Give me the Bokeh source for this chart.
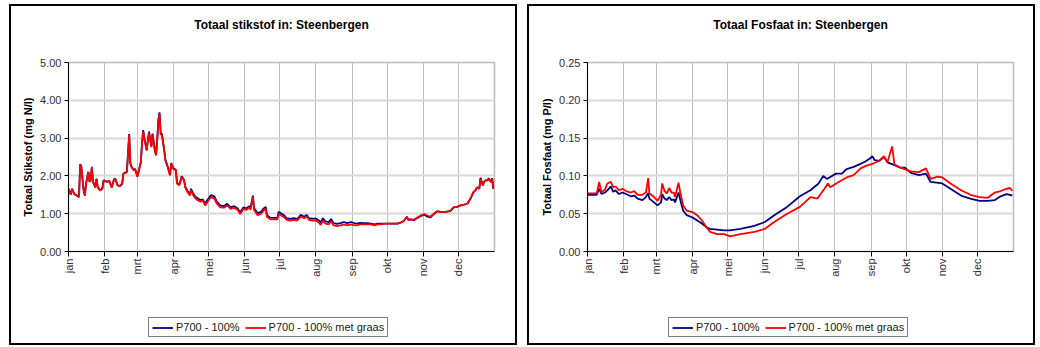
import math
from bokeh.plotting import figure
from bokeh.layouts import row, column
from bokeh.models import (Range1d, FixedTicker, NumeralTickFormatter, Legend, LegendItem,
                          LinearAxis)
from bokeh.embed import file_html
from bokeh.resources import INLINE

# ---------------- data ----------------
month_days = [0, 31, 59, 90, 120, 151, 181, 212, 243, 273, 304, 334]
month_labels = ["jan", "feb", "mrt", "apr", "mei", "jun", "jul", "aug", "sep", "okt", "nov", "dec"]

# Totaal stikstof (mg N/l)
n_days = [0, 2, 3, 5, 7, 9, 10, 11, 13, 14,
          15, 17, 18, 19, 20, 21, 23, 24, 25, 27,
          29, 30, 33, 35, 37, 39, 40, 42, 44, 46,
          47, 50, 51, 52, 53, 54, 56, 57, 59, 60,
          62, 63, 64, 65, 67, 68, 69, 71, 72, 74,
          75, 76, 77, 78, 79, 80, 82, 83, 85, 87,
          88, 90, 92, 93, 95, 97, 99, 100, 102, 104,
          105, 107, 109, 111, 113, 115, 117, 119, 122, 125,
          127, 130, 133, 136, 139, 142, 145, 147, 150, 152,
          155, 156, 158, 159, 162, 165, 167, 169, 170, 173,
          176, 179, 180, 182, 185, 187, 190, 193, 196, 199,
          202, 204, 206, 209, 212, 215, 216, 218, 220, 223,
          225, 227, 230, 233, 236, 239, 242, 245, 247, 250,
          253, 256, 259, 262, 265, 267, 270, 273, 276, 279,
          282, 285, 287, 290, 291, 293, 296, 299, 302, 305,
          307, 310, 313, 316, 319, 323, 327, 330, 333, 336,
          339, 342, 345, 347, 349, 350, 352, 353, 355, 356,
          357, 359, 360, 362, 363, 364]
n_graas = [1.66, 1.50, 1.66, 1.52, 1.48, 1.44, 2.30, 2.23, 1.61, 1.48,
           1.79, 2.10, 1.84, 1.88, 2.23, 1.84, 1.69, 1.92, 1.70, 1.61,
           1.66, 1.87, 1.84, 1.86, 1.69, 1.90, 1.92, 1.75, 1.72, 1.79,
           2.05, 2.10, 2.58, 3.08, 2.32, 2.23, 2.14, 2.18, 1.98, 2.10,
           2.36, 2.85, 3.18, 2.98, 2.67, 2.93, 3.14, 2.76, 3.09, 2.67,
           2.54, 2.93, 3.46, 3.64, 3.09, 3.09, 2.67, 2.41, 2.23, 2.01,
           2.32, 2.18, 2.14, 1.79, 1.75, 1.97, 1.88, 1.70, 1.57, 1.48,
           1.63, 1.48, 1.40, 1.35, 1.32, 1.35, 1.22, 1.31, 1.44, 1.40,
           1.27, 1.17, 1.16, 1.22, 1.13, 1.16, 1.10, 0.99, 1.13, 1.10,
           1.16, 1.10, 1.44, 1.10, 0.96, 1.00, 1.08, 1.13, 0.92, 0.85,
           0.85, 0.85, 1.00, 0.96, 0.90, 0.84, 0.82, 0.84, 0.82, 0.92,
           0.88, 0.93, 0.84, 0.82, 0.82, 0.75, 0.70, 0.82, 0.74, 0.72,
           0.80, 0.69, 0.67, 0.69, 0.72, 0.69, 0.72, 0.69, 0.69, 0.72,
           0.72, 0.72, 0.72, 0.69, 0.72, 0.72, 0.73, 0.74, 0.74, 0.74,
           0.74, 0.77, 0.80, 0.92, 0.84, 0.85, 0.84, 0.90, 0.96, 0.99,
           0.96, 0.92, 1.00, 1.07, 1.05, 1.05, 1.07, 1.17, 1.18, 1.22,
           1.24, 1.27, 1.44, 1.57, 1.63, 1.70, 1.66, 1.92, 1.75, 1.84,
           1.88, 1.88, 1.92, 1.84, 1.92, 1.66]
n_base = [1.66, 1.50, 1.66, 1.52, 1.48, 1.44, 2.31, 2.24, 1.61, 1.48,
          1.79, 2.11, 1.85, 1.89, 2.24, 1.85, 1.70, 1.93, 1.71, 1.62,
          1.67, 1.88, 1.85, 1.87, 1.70, 1.91, 1.93, 1.76, 1.73, 1.80,
          2.06, 2.11, 2.60, 3.11, 2.33, 2.24, 2.15, 2.19, 1.99, 2.11,
          2.37, 2.87, 3.21, 3.00, 2.69, 2.95, 3.17, 2.78, 3.12, 2.69,
          2.56, 2.95, 3.48, 3.68, 3.12, 3.12, 2.69, 2.43, 2.25, 2.03,
          2.34, 2.20, 2.16, 1.81, 1.77, 1.99, 1.90, 1.72, 1.60, 1.52,
          1.66, 1.52, 1.44, 1.40, 1.36, 1.38, 1.27, 1.36, 1.49, 1.46,
          1.32, 1.22, 1.20, 1.26, 1.17, 1.20, 1.14, 1.03, 1.17, 1.14,
          1.20, 1.16, 1.48, 1.15, 1.01, 1.05, 1.13, 1.18, 0.97, 0.89,
          0.89, 0.89, 1.05, 1.01, 0.95, 0.88, 0.86, 0.88, 0.86, 0.97,
          0.92, 0.97, 0.88, 0.87, 0.87, 0.81, 0.76, 0.88, 0.80, 0.78,
          0.86, 0.75, 0.73, 0.75, 0.78, 0.75, 0.78, 0.75, 0.74, 0.76,
          0.75, 0.75, 0.74, 0.72, 0.74, 0.74, 0.74, 0.74, 0.74, 0.74,
          0.74, 0.77, 0.80, 0.92, 0.84, 0.85, 0.83, 0.89, 0.94, 0.97,
          0.93, 0.90, 0.99, 1.06, 1.05, 1.05, 1.07, 1.17, 1.18, 1.22,
          1.24, 1.27, 1.44, 1.57, 1.63, 1.70, 1.66, 1.95, 1.75, 1.84,
          1.88, 1.88, 1.94, 1.84, 1.94, 1.66]

# Totaal fosfaat (mg P/l)
p_base_days = [0, 5, 8, 10, 12, 15, 17, 20, 22, 24,
               27, 30, 33, 37, 40, 43, 47, 50, 52, 53,
               57, 60, 63, 64, 66, 68, 70, 72, 74, 75,
               78, 80, 82, 85, 90, 94, 98, 102, 105, 111,
               117, 122, 131, 143, 152, 160, 171, 182, 191, 198,
               202, 205, 213, 218, 222, 228, 234, 238, 242, 244,
               246, 250, 254, 257, 262, 268, 272, 277, 284, 290,
               294, 304, 311, 320, 328, 336, 343, 349, 354, 359,
               362, 364]
p_base = [0.075, 0.075, 0.075, 0.083, 0.076, 0.078, 0.081, 0.086, 0.079, 0.081,
          0.076, 0.078, 0.076, 0.073, 0.074, 0.070, 0.068, 0.072, 0.077, 0.070,
          0.065, 0.061, 0.065, 0.076, 0.070, 0.068, 0.072, 0.068, 0.069, 0.065,
          0.078, 0.065, 0.054, 0.048, 0.045, 0.041, 0.037, 0.032, 0.030, 0.029,
          0.028, 0.028, 0.030, 0.034, 0.039, 0.048, 0.059, 0.073, 0.081, 0.090,
          0.100, 0.096, 0.103, 0.103, 0.109, 0.112, 0.116, 0.119, 0.123, 0.126,
          0.121, 0.120, 0.125, 0.118, 0.115, 0.111, 0.111, 0.104, 0.101, 0.103,
          0.092, 0.090, 0.083, 0.074, 0.070, 0.067, 0.067, 0.068, 0.073, 0.076,
          0.075, 0.074]
p_graas_days = [0, 5, 8, 10, 12, 15, 17, 20, 22, 24,
                27, 30, 33, 37, 40, 43, 47, 50, 52, 53,
                57, 60, 63, 64, 66, 68, 70, 72, 74, 75,
                78, 80, 82, 85, 90, 94, 98, 102, 105, 111,
                117, 122, 131, 143, 152, 160, 171, 182, 191, 197,
                203, 206, 208, 213, 222, 228, 234, 238, 242, 244,
                250, 254, 257, 261, 263, 268, 277, 284, 290, 294,
                300, 304, 311, 320, 328, 336, 343, 349, 354, 359,
                362, 364]
p_graas = [0.077, 0.077, 0.077, 0.092, 0.078, 0.082, 0.090, 0.092, 0.085, 0.086,
           0.081, 0.083, 0.080, 0.078, 0.080, 0.075, 0.075, 0.078, 0.097, 0.077,
           0.072, 0.067, 0.075, 0.090, 0.080, 0.077, 0.084, 0.078, 0.078, 0.072,
           0.091, 0.074, 0.061, 0.054, 0.052, 0.048, 0.041, 0.032, 0.026, 0.023,
           0.023, 0.020, 0.023, 0.026, 0.030, 0.039, 0.050, 0.059, 0.072, 0.070,
           0.083, 0.090, 0.085, 0.090, 0.098, 0.101, 0.110, 0.113, 0.115, 0.116,
           0.120, 0.126, 0.118, 0.139, 0.115, 0.111, 0.106, 0.105, 0.110, 0.096,
           0.099, 0.098, 0.090, 0.081, 0.075, 0.072, 0.071, 0.078, 0.080, 0.083,
           0.084, 0.080]

series_labels = ["P700 - 100%", "P700 - 100% met graas"]
series_colors = ["#000080", "#ff0000"]

FONT = "Liberation Sans"
TOP, FRAME_H, BOTTOM = 56, 189, 40
BOX_INNER_H = 337
LEGEND_H = BOX_INNER_H - TOP - FRAME_H - BOTTOM


def spacer_axis(height):
    # an axis with one invisible tick and an empty label: only reserves space
    ax = LinearAxis(ticker=FixedTicker(ticks=[180]))
    ax.major_label_overrides = {180: ""}
    ax.axis_line_color = None
    ax.major_tick_line_color = None
    ax.minor_tick_line_color = None
    ax.major_tick_out = height
    ax.major_tick_in = 0
    ax.minor_tick_out = 0
    ax.minor_tick_in = 0
    ax.major_label_standoff = 0
    ax.major_label_text_font_size = "1px"
    return ax


def make_chart(title, ylabel, ymax, yticks, xb, yb, xr, yr, left_border, legend_x):
    p = figure(frame_width=426, frame_height=FRAME_H,
               min_border_left=left_border, min_border_right=504 - 426 - left_border,
               min_border_top=TOP, min_border_bottom=BOTTOM,
               x_range=Range1d(0, 365), y_range=Range1d(0, ymax),
               output_backend="svg", toolbar_location=None, title=title)
    p.background_fill_color = "white"
    p.border_fill_color = "white"
    p.outline_line_color = "#bdbdbd"
    p.outline_line_width = 1.5

    p.title.align = "center"
    p.title.text_font = FONT
    p.title.text_font_size = "12px"
    p.title.text_font_style = "bold"
    p.title.text_color = "#000000"
    p.title.standoff = 10

    xa = p.below[0]
    ya = p.left[0]

    # grids
    p.xgrid.ticker = FixedTicker(ticks=month_days)
    p.xgrid.grid_line_color = "#bfbfbf"
    p.xgrid.grid_line_width = 1
    p.ygrid.ticker = FixedTicker(ticks=yticks)
    p.ygrid.grid_line_color = "#d9d9d9"
    p.ygrid.grid_line_width = 2

    # x axis
    xa.ticker = FixedTicker(ticks=month_days)
    xa.major_label_overrides = {d: m for d, m in zip(month_days, month_labels)}
    xa.major_label_orientation = math.pi / 2
    xa.axis_line_color = "#000000"
    xa.major_tick_line_color = "#000000"
    xa.major_tick_out = 5
    xa.major_tick_in = 0
    xa.minor_tick_line_color = None
    xa.major_label_text_font = FONT
    xa.major_label_text_font_size = "11px"
    xa.major_label_text_color = "#303030"
    xa.major_label_standoff = 2

    # y axis
    ya.ticker = FixedTicker(ticks=yticks)
    ya.formatter = NumeralTickFormatter(format="0.00")
    ya.axis_line_color = "#000000"
    ya.major_tick_line_color = "#000000"
    ya.major_tick_out = 4
    ya.major_tick_in = 0
    ya.minor_tick_line_color = None
    ya.major_label_text_font = FONT
    ya.major_label_text_font_size = "11px"
    ya.major_label_text_color = "#303030"
    ya.major_label_standoff = 3
    ya.axis_label = ylabel
    ya.axis_label_text_font = FONT
    ya.axis_label_text_font_size = "11px"
    ya.axis_label_text_font_style = "bold"
    ya.axis_label_text_color = "#000000"
    ya.axis_label_standoff = 3

    p.line(xb, yb, line_color=series_colors[0], line_width=1.8)
    p.line(xr, yr, line_color=series_colors[1], line_width=1.8)

    p.add_layout(spacer_axis(26), "above")

    # legend strip below the chart; its own frame holds the legend box.
    # The series are drawn here too but fall outside this strip's x range,
    # so only their legend swatches show.
    lf = figure(width=504, height=LEGEND_H, x_range=Range1d(-20, -10), y_range=Range1d(0, 1),
                output_backend="svg", toolbar_location=None,
                min_border_left=0, min_border_right=0, min_border_top=0, min_border_bottom=0)
    lf.axis.visible = False
    lf.grid.visible = False
    lf.outline_line_color = None
    lf.background_fill_color = "white"
    lf.border_fill_color = "white"
    lb = lf.line(xb, yb, line_color=series_colors[0], line_width=1.8)
    lr = lf.line(xr, yr, line_color=series_colors[1], line_width=1.8)
    legend = Legend(items=[LegendItem(label=series_labels[0], renderers=[lb]),
                           LegendItem(label=series_labels[1], renderers=[lr])],
                    orientation="horizontal", location=(legend_x, 6))
    legend.border_line_color = "#000000"
    legend.border_line_width = 1
    legend.background_fill_color = "white"
    legend.background_fill_alpha = 1
    legend.label_text_font = FONT
    legend.label_text_font_size = "11px"
    legend.label_text_color = "#202020"
    legend.padding = 3
    legend.spacing = 5
    legend.margin = 0
    legend.label_standoff = 3
    legend.glyph_width = 21
    legend.glyph_height = 11
    legend.label_height = 11
    lf.add_layout(legend)

    box = column(p, lf, spacing=0, styles={"border": "2px solid #000000"})
    return box


c1 = make_chart("Totaal stikstof in: Steenbergen", "Totaal Stikstof (mg N/l)", 5.0,
                [0, 1, 2, 3, 4, 5], n_days, n_base, n_days, n_graas, 57, 80)
c2 = make_chart("Totaal Fosfaat in: Steenbergen", "Totaal Fosfaat (mg P/l)", 0.25,
                [0, 0.05, 0.10, 0.15, 0.20, 0.25], p_base_days, p_base, p_graas_days, p_graas, 58, 81)

layout = row(c1, c2, spacing=10, styles={"margin-left": "9px", "margin-top": "4px"})
open("out.html", "w").write(file_html(layout, INLINE))
